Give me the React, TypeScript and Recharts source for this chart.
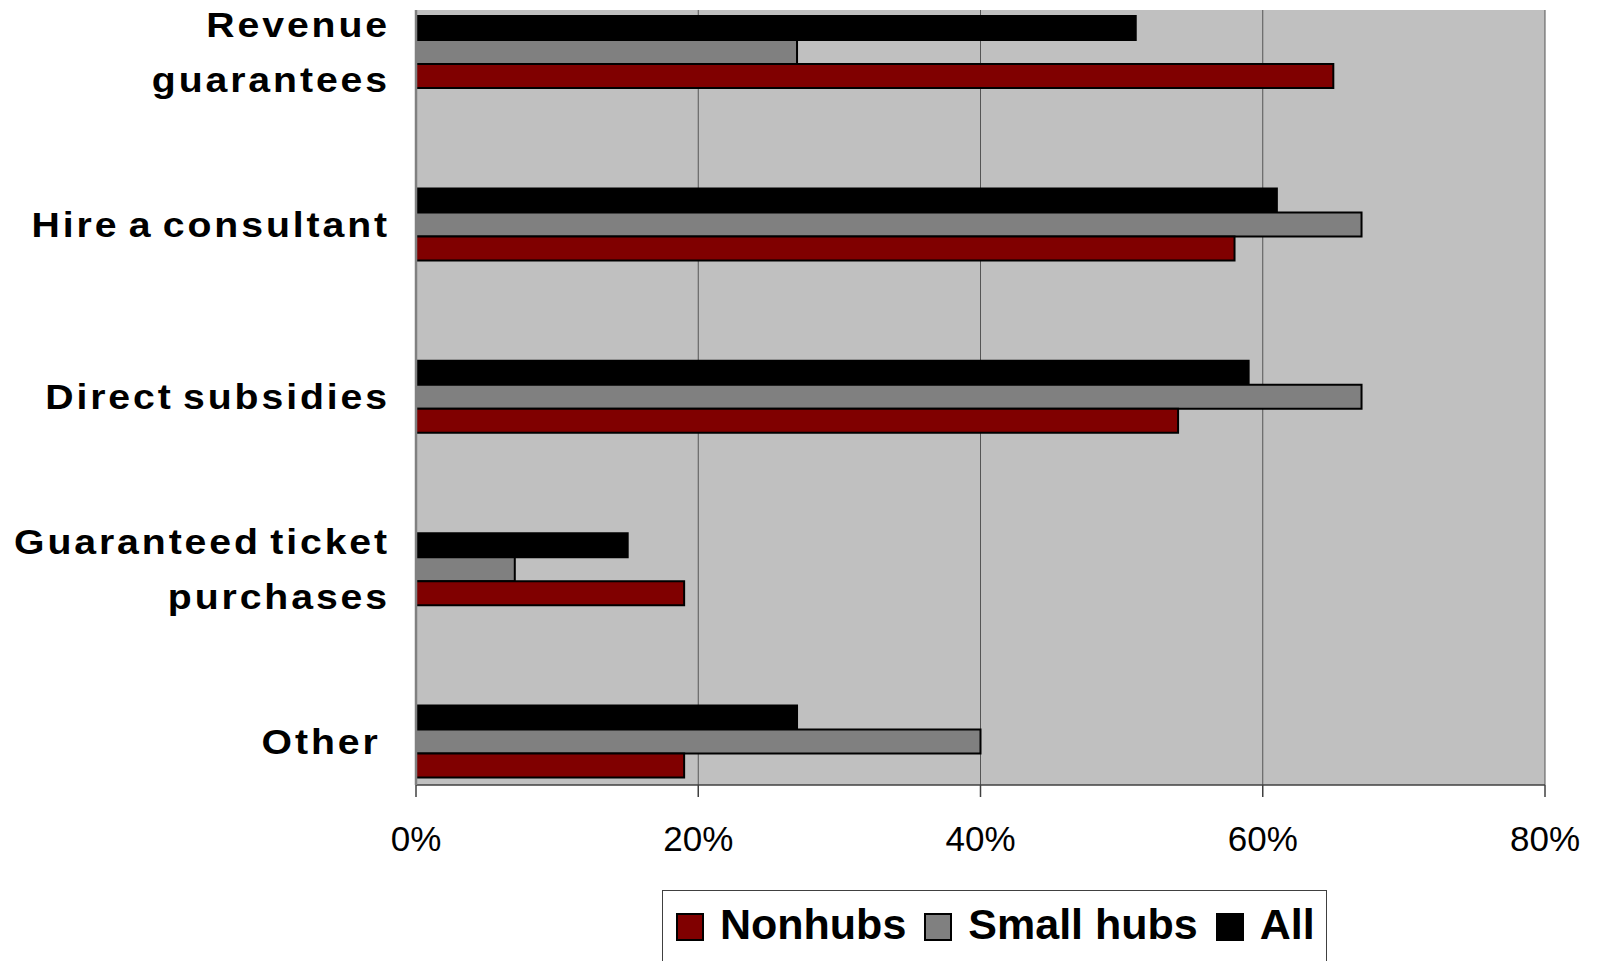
import React from 'react';
import { BarChart, Bar, XAxis, YAxis, CartesianGrid } from 'recharts';

const categories = ['Revenue guarantees', 'Hire a consultant', 'Direct subsidies', 'Guaranteed ticket purchases', 'Other '];
const categoryLines = [['Revenue', 'guarantees'], ['Hire a consultant'], ['Direct subsidies'], ['Guaranteed ticket', 'purchases'], ['Other ']];
const nonhubs = [65, 58, 54, 19, 19];
const smallHubs = [27, 67, 67, 7, 40];
const allAirports = [51, 61, 59, 15, 27];
const xTicks = [0, 20, 40, 60, 80];

const seriesNames = { nonhubs: 'Nonhubs', small: 'Small hubs', all: 'All' };
const seriesColors = { nonhubs: '#800000', small: '#808080', all: '#000000' };

const data = categories.map((c, i) => ({
  category: c,
  nonhubs: nonhubs[i],
  small: smallHubs[i],
  all: allAirports[i],
}));

const FONT = '"Liberation Sans", Arial, sans-serif';

const CategoryTick = (props: any) => {
  const { x, y, payload } = props;
  const idx = categories.indexOf(payload.value);
  const lines = idx >= 0 ? categoryLines[idx] : [String(payload.value)];
  const common = {
    textAnchor: 'end' as const,
    fontFamily: FONT,
    fontWeight: 700,
    fontSize: 35,
    letterSpacing: 2.6,
    wordSpacing: -4,
    fill: '#000',
    style: { whiteSpace: 'pre' as const },
  };
  return (
    <g transform={`translate(${x},${y}) scale(1.12,1)`}>
      {lines.length === 1 ? (
        <text x={0} y={12} {...common}>
          {lines[0]}
        </text>
      ) : (
        <>
          <text x={0} y={-15} {...common}>
            {lines[0]}
          </text>
          <text x={0} y={40} {...common}>
            {lines[1]}
          </text>
        </>
      )}
    </g>
  );
};

const legendOrder: Array<'nonhubs' | 'small' | 'all'> = ['nonhubs', 'small', 'all'];

export default function App() {
  return (
    <div style={{ position: 'absolute', left: 0, top: 0, width: 1601, height: 961, background: '#fff', overflow: 'hidden' }}>
      <BarChart
        width={1601}
        height={961}
        data={data}
        layout="vertical"
        margin={{ top: 10, right: 56, bottom: 106, left: 0 }}
        barGap={0}
      >
        <CartesianGrid horizontal={false} fill="#C0C0C0" stroke="#555555" strokeWidth={1} />
        <XAxis
          type="number"
          domain={[0, 80]}
          ticks={xTicks}
          interval={0}
          tickFormatter={(v: number) => `${v}%`}
          height={70}
          tickSize={12}
          tickMargin={29}
          axisLine={{ stroke: '#404040', strokeWidth: 1.5 }}
          tickLine={{ stroke: '#404040', strokeWidth: 1.5 }}
          tick={{ fontFamily: FONT, fontSize: 35, fill: '#000' }}
        />
        <XAxis
          xAxisId="top"
          orientation="top"
          type="number"
          domain={[0, 80]}
          height={0}
          tick={false}
          tickLine={false}
          axisLine={{ stroke: '#808080', strokeWidth: 2.5 }}
        />
        <YAxis
          type="category"
          dataKey="category"
          width={416}
          padding={{ top: -44, bottom: -43 }}
          tickSize={0}
          tickMargin={26}
          tickLine={false}
          interval={0}
          axisLine={{ stroke: '#808080', strokeWidth: 2.5 }}
          tick={<CategoryTick />}
        />
        <YAxis
          yAxisId="right"
          orientation="right"
          type="category"
          dataKey="category"
          width={0}
          tick={false}
          tickLine={false}
          axisLine={{ stroke: '#808080', strokeWidth: 2.5 }}
        />
        <Bar dataKey="all" name={seriesNames.all} fill={seriesColors.all} stroke="#000" strokeWidth={2} barSize={24} isAnimationActive={false} />
        <Bar dataKey="small" name={seriesNames.small} fill={seriesColors.small} stroke="#000" strokeWidth={2} barSize={24} isAnimationActive={false} />
        <Bar dataKey="nonhubs" name={seriesNames.nonhubs} fill={seriesColors.nonhubs} stroke="#000" strokeWidth={2} barSize={24} isAnimationActive={false} />
      </BarChart>
      <div
        style={{
          position: 'absolute',
          left: 662,
          top: 890,
          width: 665,
          height: 90,
          boxSizing: 'border-box',
          border: '1.5px solid #404040',
          background: '#fff',
          display: 'flex',
          alignItems: 'flex-start',
          paddingLeft: 13,
          paddingTop: 12,
          fontFamily: FONT,
          fontWeight: 700,
          fontSize: 43,
          lineHeight: '43px',
          color: '#000',
          whiteSpace: 'nowrap',
        }}
      >
        {legendOrder.map((k, i) => (
          <div key={k} style={{ display: 'flex', alignItems: 'flex-start', marginRight: i < 2 ? 18 : 0 }}>
            <div
              style={{
                width: 28,
                height: 28,
                boxSizing: 'border-box',
                border: '2.5px solid #000',
                background: seriesColors[k],
                marginTop: 10,
                marginRight: 16,
              }}
            />
            <span>{seriesNames[k]}</span>
          </div>
        ))}
      </div>
    </div>
  );
}
